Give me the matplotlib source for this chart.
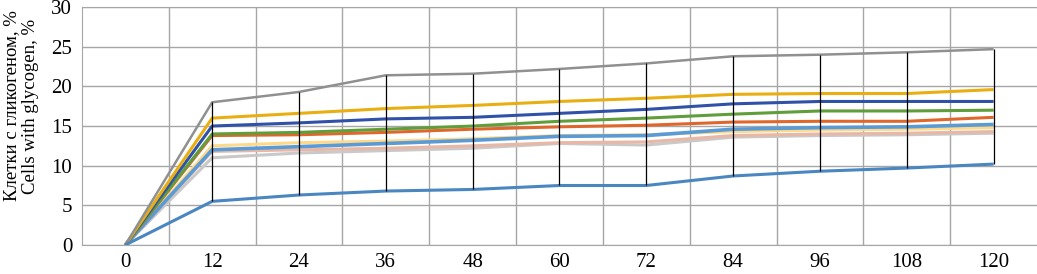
import numpy as np
import matplotlib
matplotlib.use('Agg')
import matplotlib.pyplot as plt

plt.rcParams['font.family'] = ['Liberation Serif', 'DejaVu Serif']

hours = ['0', '12', '24', '36', '48', '60', '72', '84', '96', '108', '120']

gray = [0, 18.0, 19.3, 21.4, 21.6, 22.2, 22.9, 23.8, 24.0, 24.3, 24.7]
gold = [0, 16.0, 16.6, 17.2, 17.6, 18.1, 18.5, 19.0, 19.1, 19.1, 19.6]
navy = [0, 15.0, 15.4, 15.9, 16.1, 16.6, 17.1, 17.8, 18.1, 18.1, 18.1]
green = [0, 14.0, 14.2, 14.6, 15.0, 15.6, 16.0, 16.5, 16.9, 16.9, 17.0]
orange = [0, 13.8, 13.9, 14.2, 14.6, 14.9, 15.1, 15.5, 15.6, 15.6, 16.1]
lt_yellow = [0, 12.5, 12.9, 13.1, 13.4, 13.8, 13.9, 14.3, 14.5, 14.6, 14.8]
lt_blue = [0, 12.0, 12.4, 12.8, 13.2, 13.7, 13.8, 14.6, 14.8, 14.9, 15.2]
peach = [0, 11.8, 12.0, 12.2, 12.5, 12.9, 13.0, 13.8, 14.0, 14.1, 14.3]
lt_gray = [0, 11.0, 11.6, 11.9, 12.2, 12.8, 12.6, 13.6, 13.8, 13.9, 14.1]
steel = [0, 5.5, 6.3, 6.8, 7.0, 7.5, 7.5, 8.7, 9.3, 9.7, 10.2]

series = [
    (lt_gray, '#c9c9c9', 2.2),
    (peach, '#e8b7a6', 2.2),
    (lt_yellow, '#ffd98a', 2.2),
    (lt_blue, '#5b9bd5', 2.6),
    (orange, '#e0672c', 2.2),
    (green, '#5f9e3a', 2.2),
    (navy, '#2f52a8', 2.2),
    (gold, '#e8ae12', 2.2),
    (gray, '#909090', 1.8),
    (steel, '#4a86c0', 2.2),
]

x = np.arange(len(hours))

fig = plt.figure(figsize=(10.37, 2.74), dpi=100)
ax = fig.add_axes([0.079, 0.106, 0.921, 0.868])

for vals, col, lw in series:
    ax.plot(x, vals, color=col, lw=lw, solid_capstyle='butt', zorder=3)

allv = np.array([s[0] for s in series])
lo = allv.min(axis=0)
hi = allv.max(axis=0)
ax.vlines(x[1:], lo[1:], hi[1:], color='black', lw=0.9, zorder=4)

ax.set_xlim(-0.5, len(hours) - 0.5)
ax.set_ylim(0, 30)
ax.set_yticks(np.arange(0, 31, 5))
ax.set_xticks(x)
ax.set_xticklabels(hours)
ax.set_xticks(np.arange(0.5, len(hours) - 0.5, 1), minor=True)
ax.grid(axis='y', color='#a6a6a6', lw=1)
ax.grid(axis='x', which='minor', color='#a6a6a6', lw=1)
ax.set_axisbelow(True)
ax.tick_params(axis='both', which='both', length=0, labelsize=15)
ax.tick_params(axis='y', pad=7)
ax.tick_params(axis='x', pad=6)
for s in ax.spines.values():
    s.set_color('#a6a6a6')
ax.spines['right'].set_visible(False)

fig.text(21 / 1037, 1 - 106 / 274, 'Клетки с гликогеном, %\nCells with glycogen, %',
         fontsize=13.5, rotation=90, ha='center', va='center',
         multialignment='center', linespacing=1.2)

fig.savefig('out.png', dpi=100)
